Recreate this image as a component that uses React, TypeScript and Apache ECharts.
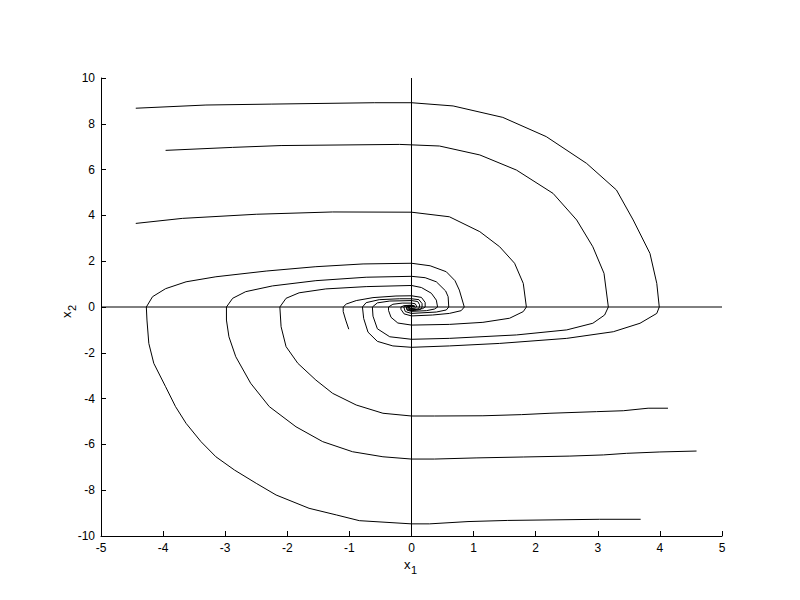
import React, { useEffect, useRef } from "react";
import * as echarts from "echarts";

// Trajectories (x1, x2)
const curveA: number[][] = [
  [-4.44, 8.68], [-3.31, 8.82], [-2.26, 8.86], [-0.6, 8.92], [0, 8.92], [0.67, 8.78], [1.47, 8.28],
  [2.17, 7.44], [2.82, 6.27], [3.3, 5.11], [3.57, 3.8], [3.84, 2.34], [3.95, 1.03], [3.99, 0],
  [3.95, -0.28], [3.68, -0.71], [3.25, -1.08], [2.5, -1.37], [1.42, -1.59], [0.61, -1.7], [0, -1.76],
  [-0.3, -1.7], [-0.55, -1.5], [-0.7, -1.1], [-0.77, -0.5], [-0.79, 0], [-0.73, 0.19], [-0.52, 0.32],
  [-0.19, 0.36], [0, 0.36], [0.12, 0.32], [0.17, 0.15], [0.17, 0], [0.15, -0.1], [0.08, -0.14],
  [0, -0.16], [-0.07, -0.12], [-0.08, 0], [-0.05, 0.06], [0, 0.07], [0.03, 0.04], [0.035, 0],
];
const curveB: number[][] = [
  [-3.96, 6.84], [-2.88, 6.97], [-2.1, 7.05], [-0.19, 7.1], [0, 7.08], [0.45, 7.03], [1.1, 6.64],
  [1.69, 5.98], [2.28, 4.96], [2.66, 3.8], [2.92, 2.63], [3.1, 1.47], [3.17, 0], [3.11, -0.35],
  [2.92, -0.71], [2.5, -1.0], [1.69, -1.22], [0.61, -1.37], [0, -1.41], [-0.35, -1.3], [-0.55, -0.95],
  [-0.62, -0.4], [-0.63, 0], [-0.55, 0.18], [-0.35, 0.26], [0, 0.28], [0.1, 0.24], [0.13, 0.1],
  [0.13, 0], [0.1, -0.09], [0, -0.13], [-0.05, -0.1], [-0.06, 0], [-0.03, 0.05], [0, 0.055],
];
const curveC: number[][] = [
  [-4.44, 3.65], [-3.69, 3.87], [-2.5, 4.05], [-1.27, 4.15], [0, 4.14], [0.61, 3.94], [1.1, 3.29],
  [1.42, 2.63], [1.66, 1.91], [1.8, 1.03], [1.85, 0], [1.8, -0.2], [1.58, -0.49], [1.15, -0.67],
  [0.61, -0.76], [0, -0.79], [-0.22, -0.7], [-0.33, -0.45], [-0.37, -0.15], [-0.37, 0], [-0.3, 0.12],
  [-0.15, 0.17], [0, 0.17], [0.06, 0.14], [0.08, 0.05], [0.08, 0], [0.06, -0.05], [0, -0.07],
  [-0.03, -0.05], [-0.035, 0],
];
const curveD: number[][] = [
  [4.13, -4.42], [3.81, -4.42], [3.41, -4.53], [2.98, -4.57], [2.23, -4.64], [1.77, -4.7], [1.15, -4.75],
  [0.37, -4.76], [0, -4.76], [-0.46, -4.64], [-0.89, -4.28], [-1.27, -3.77], [-1.54, -3.19],
  [-1.83, -2.46], [-2.02, -1.73], [-2.1, -0.86], [-2.12, 0], [-2.02, 0.38], [-1.81, 0.62],
  [-1.38, 0.79], [-0.73, 0.89], [0, 0.94], [0.16, 0.85], [0.32, 0.6], [0.4, 0.3], [0.42, 0],
  [0.37, -0.09], [0.24, -0.16], [0, -0.19], [-0.07, -0.14], [-0.085, 0], [-0.06, 0.03], [0, 0.04],
  [0.02, 0.02], [0.02, 0],
];
const curveE: number[][] = [
  [4.59, -6.29], [4.0, -6.33], [3.46, -6.39], [3.09, -6.46], [2.55, -6.51], [1.8, -6.55], [1.04, -6.59],
  [0.37, -6.64], [0, -6.64], [-0.46, -6.54], [-0.95, -6.32], [-1.43, -5.88], [-1.86, -5.23],
  [-2.29, -4.35], [-2.59, -3.33], [-2.83, -2.17], [-2.94, -1.3], [-2.98, -0.57], [-2.98, 0],
  [-2.88, 0.38], [-2.67, 0.67], [-2.24, 0.92], [-1.54, 1.15], [-0.73, 1.3], [0, 1.34], [0.22, 1.28],
  [0.4, 1.1], [0.55, 0.7], [0.59, 0.45], [0.6, 0], [0.56, -0.13], [0.4, -0.22], [0, -0.28],
  [-0.1, -0.2], [-0.125, 0], [-0.08, 0.05], [0, 0.06], [0.03, 0.03], [0.03, 0],
];
const curveF: number[][] = [
  [3.69, -9.27], [3.03, -9.27], [1.55, -9.32], [0.91, -9.37], [0.29, -9.47], [0, -9.47],
  [-0.84, -9.33], [-1.21, -9.08], [-1.65, -8.79], [-2.18, -8.21], [-2.5, -7.7], [-2.85, -7.12],
  [-3.15, -6.54], [-3.39, -5.88], [-3.63, -5.08], [-3.8, -4.35], [-3.96, -3.48], [-4.15, -2.46],
  [-4.23, -1.59], [-4.26, -0.57], [-4.27, 0], [-4.17, 0.45], [-3.96, 0.8], [-3.63, 1.1],
  [-3.15, 1.32], [-2.34, 1.57], [-1.54, 1.76], [-0.78, 1.88], [0, 1.91], [0.3, 1.8], [0.56, 1.54],
  [0.7, 1.15], [0.77, 0.74], [0.85, 0], [0.8, -0.16], [0.61, -0.28], [0.34, -0.35], [0, -0.39],
  [-0.12, -0.3], [-0.17, -0.1], [-0.17, 0], [-0.12, 0.06], [0, 0.08], [0.05, 0.05], [0.05, 0],
];
const curveG: number[][] = [
  [-1.01, -0.97], [-1.06, -0.57], [-1.1, -0.2], [-1.1, 0], [-1.05, 0.13], [-0.89, 0.28],
  [-0.62, 0.41], [-0.25, 0.48], [0, 0.49], [0.16, 0.42], [0.22, 0.2], [0.22, 0], [0.18, -0.07],
  [0.1, -0.1], [0, -0.1], [-0.04, -0.07], [-0.05, 0], [-0.03, 0.03], [0, 0.03],
];
const horizontalAxisLine: number[][] = [[-5, 0], [5, 0]];
const verticalAxisLine: number[][] = [[0, -10], [0, 10]];

const xRange = [-5, 5];
const yRange = [-10, 10];
const xStep = 1;
const yStep = 2;

export default function App() {
  const ref = useRef<HTMLDivElement>(null);
  useEffect(() => {
    if (!ref.current) return;
    const chart = echarts.init(ref.current, undefined, { renderer: "svg" });
    const font = "Liberation Sans, Arial, Helvetica, sans-serif";
    const lineSeries = (data: number[][]) => ({
      type: "line",
      data,
      showSymbol: false,
      symbol: "none",
      silent: true,
      lineStyle: { color: "#000", width: 1 },
      clip: true,
    });
    const axisCommon = {
      type: "value",
      axisLine: { show: true, onZero: false, lineStyle: { color: "#000", width: 1 } },
      axisTick: { show: true, inside: true, length: 5, lineStyle: { color: "#000" } },
      splitLine: { show: false },
      axisLabel: {
        color: "#000",
        fontSize: 12,
        fontFamily: font,
        formatter: (v: number) => String(v),
      },
    };
    chart.setOption({
      animation: false,
      backgroundColor: "#fff",
      grid: { left: 101, right: 78, top: 78, bottom: 64, containLabel: false },
      xAxis: {
        ...axisCommon,
        min: xRange[0],
        max: xRange[1],
        interval: xStep,
        axisLabel: { ...axisCommon.axisLabel, margin: 6 },
      },
      yAxis: {
        ...axisCommon,
        min: yRange[0],
        max: yRange[1],
        interval: yStep,
        axisLabel: { ...axisCommon.axisLabel, margin: 6 },
      },
      series: [
        lineSeries(horizontalAxisLine),
        lineSeries(verticalAxisLine),
        lineSeries(curveA),
        lineSeries(curveB),
        lineSeries(curveC),
        lineSeries(curveD),
        lineSeries(curveE),
        lineSeries(curveF),
        lineSeries(curveG),
      ],
      graphic: [
        {
          type: "group",
          left: 404,
          top: 558,
          children: [
            { type: "text", x: 0, y: 0, style: { text: "x", fontSize: 13, fontFamily: font, fill: "#000" } },
            { type: "text", x: 7, y: 6, style: { text: "1", fontSize: 11, fontFamily: font, fill: "#000" } },
          ],
        },
        {
          type: "group",
          x: 60,
          y: 318,
          rotation: Math.PI / 2,
          children: [
            { type: "text", x: 0, y: 0, style: { text: "x", fontSize: 13, fontFamily: font, fill: "#000" } },
            { type: "text", x: 7, y: 6, style: { text: "2", fontSize: 11, fontFamily: font, fill: "#000" } },
          ],
        },
      ],
    });
    return () => chart.dispose();
  }, []);
  return (
    <div
      ref={ref}
      style={{ position: "absolute", left: 0, top: 0, width: 800, height: 600, background: "#fff" }}
    />
  );
}
